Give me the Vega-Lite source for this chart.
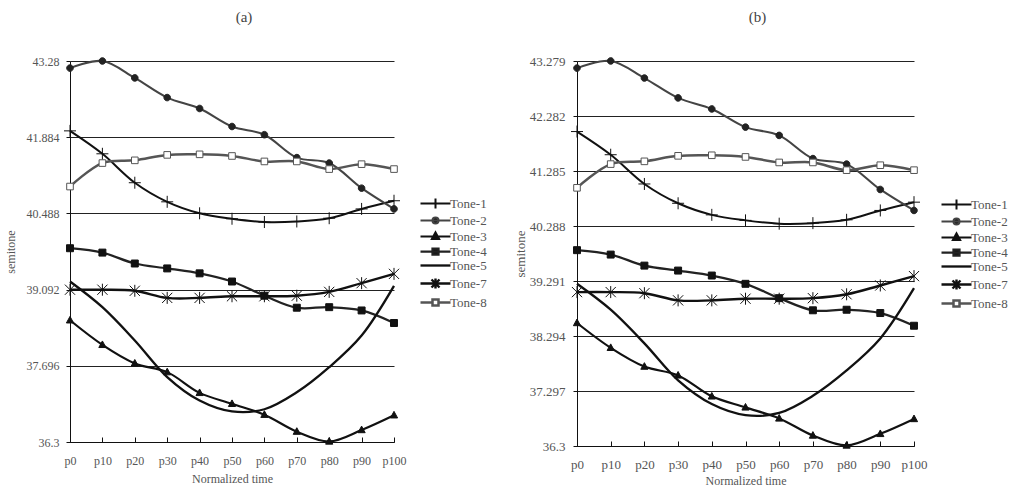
{
  "$schema": "https://vega.github.io/schema/vega-lite/v6.json",
  "padding": {"left": 4, "top": 10, "right": 2, "bottom": 0},
  "bounds": "flush",
  "spacing": 183,
  "background": "white",
  "resolve": {
    "scale": {"color": "independent", "strokeWidth": "independent", "x": "independent", "y": "independent"},
    "legend": {"color": "independent"}
  },
  "config": {
    "font": "Liberation Serif, Times New Roman, serif",
    "view": {"stroke": null},
    "title": {"font": "Liberation Serif, Times New Roman, serif", "fontSize": 15, "fontWeight": "normal", "color": "#444", "anchor": "middle", "dx": 12, "offset": 30},
    "axis": {
      "labelFont": "Liberation Serif, Times New Roman, serif",
      "labelFontSize": 12,
      "labelColor": "#555",
      "titleFont": "Liberation Serif, Times New Roman, serif",
      "titleFontSize": 12,
      "titleFontWeight": "normal",
      "titleColor": "#555",
      "domainColor": "#111",
      "domainWidth": 1,
      "tickColor": "#111",
      "gridColor": "#222",
      "gridWidth": 1,
      "gridOpacity": 1
    },
    "axisX": {"labelAngle": 0, "grid": false, "tickSize": -5, "labelPadding": 18, "titlePadding": 7},
    "axisY": {"grid": true, "tickSize": 4, "format": ".3~f"},
    "legend": {
      "labelFont": "Liberation Serif, Times New Roman, serif",
      "labelFontSize": 13,
      "labelColor": "#555",
      "padding": 0,
      "title": null,
      "orient": "none",
      "symbolSize": 100,
      "labelOffset": 8,
      "rowPadding": 0
    },
    "point": {"size": 144, "strokeWidth": 1, "opacity": 1, "filled": true, "fill": "#111", "stroke": "#111"}
  },
  "datasets": {
    "tones": [
      {"tone": "Tone-1", "time": "p0", "semitone": 42.00},
      {"tone": "Tone-1", "time": "p10", "semitone": 41.58},
      {"tone": "Tone-1", "time": "p20", "semitone": 41.05},
      {"tone": "Tone-1", "time": "p30", "semitone": 40.70},
      {"tone": "Tone-1", "time": "p40", "semitone": 40.49},
      {"tone": "Tone-1", "time": "p50", "semitone": 40.39},
      {"tone": "Tone-1", "time": "p60", "semitone": 40.33},
      {"tone": "Tone-1", "time": "p70", "semitone": 40.34},
      {"tone": "Tone-1", "time": "p80", "semitone": 40.40},
      {"tone": "Tone-1", "time": "p90", "semitone": 40.57},
      {"tone": "Tone-1", "time": "p100", "semitone": 40.72},
      {"tone": "Tone-2", "time": "p0", "semitone": 43.15},
      {"tone": "Tone-2", "time": "p10", "semitone": 43.28},
      {"tone": "Tone-2", "time": "p20", "semitone": 42.97},
      {"tone": "Tone-2", "time": "p30", "semitone": 42.61},
      {"tone": "Tone-2", "time": "p40", "semitone": 42.41},
      {"tone": "Tone-2", "time": "p50", "semitone": 42.08},
      {"tone": "Tone-2", "time": "p60", "semitone": 41.93},
      {"tone": "Tone-2", "time": "p70", "semitone": 41.51},
      {"tone": "Tone-2", "time": "p80", "semitone": 41.41},
      {"tone": "Tone-2", "time": "p90", "semitone": 40.95},
      {"tone": "Tone-2", "time": "p100", "semitone": 40.57},
      {"tone": "Tone-3", "time": "p0", "semitone": 38.53},
      {"tone": "Tone-3", "time": "p10", "semitone": 38.08},
      {"tone": "Tone-3", "time": "p20", "semitone": 37.74},
      {"tone": "Tone-3", "time": "p30", "semitone": 37.58},
      {"tone": "Tone-3", "time": "p40", "semitone": 37.20},
      {"tone": "Tone-3", "time": "p50", "semitone": 37.00},
      {"tone": "Tone-3", "time": "p60", "semitone": 36.80},
      {"tone": "Tone-3", "time": "p70", "semitone": 36.49},
      {"tone": "Tone-3", "time": "p80", "semitone": 36.31},
      {"tone": "Tone-3", "time": "p90", "semitone": 36.52},
      {"tone": "Tone-3", "time": "p100", "semitone": 36.79},
      {"tone": "Tone-4", "time": "p0", "semitone": 39.85},
      {"tone": "Tone-4", "time": "p10", "semitone": 39.77},
      {"tone": "Tone-4", "time": "p20", "semitone": 39.57},
      {"tone": "Tone-4", "time": "p30", "semitone": 39.48},
      {"tone": "Tone-4", "time": "p40", "semitone": 39.39},
      {"tone": "Tone-4", "time": "p50", "semitone": 39.24},
      {"tone": "Tone-4", "time": "p60", "semitone": 38.98},
      {"tone": "Tone-4", "time": "p70", "semitone": 38.76},
      {"tone": "Tone-4", "time": "p80", "semitone": 38.77},
      {"tone": "Tone-4", "time": "p90", "semitone": 38.71},
      {"tone": "Tone-4", "time": "p100", "semitone": 38.48},
      {"tone": "Tone-5", "time": "p0", "semitone": 39.24},
      {"tone": "Tone-5", "time": "p10", "semitone": 38.77},
      {"tone": "Tone-5", "time": "p20", "semitone": 38.16},
      {"tone": "Tone-5", "time": "p30", "semitone": 37.49},
      {"tone": "Tone-5", "time": "p40", "semitone": 37.06},
      {"tone": "Tone-5", "time": "p50", "semitone": 36.86},
      {"tone": "Tone-5", "time": "p60", "semitone": 36.90},
      {"tone": "Tone-5", "time": "p70", "semitone": 37.21},
      {"tone": "Tone-5", "time": "p80", "semitone": 37.67},
      {"tone": "Tone-5", "time": "p90", "semitone": 38.25},
      {"tone": "Tone-5", "time": "p100", "semitone": 39.16},
      {"tone": "Tone-7", "time": "p0", "semitone": 39.09},
      {"tone": "Tone-7", "time": "p10", "semitone": 39.09},
      {"tone": "Tone-7", "time": "p20", "semitone": 39.07},
      {"tone": "Tone-7", "time": "p30", "semitone": 38.94},
      {"tone": "Tone-7", "time": "p40", "semitone": 38.94},
      {"tone": "Tone-7", "time": "p50", "semitone": 38.97},
      {"tone": "Tone-7", "time": "p60", "semitone": 38.97},
      {"tone": "Tone-7", "time": "p70", "semitone": 38.98},
      {"tone": "Tone-7", "time": "p80", "semitone": 39.05},
      {"tone": "Tone-7", "time": "p90", "semitone": 39.21},
      {"tone": "Tone-7", "time": "p100", "semitone": 39.38},
      {"tone": "Tone-8", "time": "p0", "semitone": 40.98},
      {"tone": "Tone-8", "time": "p10", "semitone": 41.41},
      {"tone": "Tone-8", "time": "p20", "semitone": 41.46},
      {"tone": "Tone-8", "time": "p30", "semitone": 41.56},
      {"tone": "Tone-8", "time": "p40", "semitone": 41.57},
      {"tone": "Tone-8", "time": "p50", "semitone": 41.54},
      {"tone": "Tone-8", "time": "p60", "semitone": 41.44},
      {"tone": "Tone-8", "time": "p70", "semitone": 41.44},
      {"tone": "Tone-8", "time": "p80", "semitone": 41.30},
      {"tone": "Tone-8", "time": "p90", "semitone": 41.39},
      {"tone": "Tone-8", "time": "p100", "semitone": 41.30}
    ]
  },
  "hconcat": [
    {
      "width": 324,
      "height": 381,
      "title": {"text": "(a)"},
      "data": {"name": "tones"},
      "encoding": {
        "x": {
          "field": "time", "type": "ordinal",
          "scale": {"type": "point", "padding": 0, "domain": ["p0", "p10", "p20", "p30", "p40", "p50", "p60", "p70", "p80", "p90", "p100"]},
          "axis": {"title": "Normalized time"}
        },
        "y": {
          "field": "semitone", "type": "quantitative",
          "scale": {"domain": [36.3, 43.28], "nice": false, "zero": false},
          "axis": {"title": "semitone", "values": [36.3, 37.696, 39.092, 40.488, 41.884, 43.28], "labelPadding": 7, "titlePadding": 9}
        }
      },
      "layer": [
        {
          "mark": {"type": "line", "interpolate": "catmull-rom"},
          "encoding": {
            "color": {
              "field": "tone", "type": "nominal",
              "scale": {"domain": ["Tone-1", "Tone-2", "Tone-3", "Tone-4", "Tone-5", "Tone-7", "Tone-8"], "range": ["#111", "#444", "#111", "#222", "#111", "#111", "#555"]},
              "legend": {
                "legendX": 359, "legendY": 136,
                "symbolType": {"expr": "datum.value === 'Tone-1' ? 'M-3,0H3M0,-1V1' : datum.value === 'Tone-2' ? 'M-3,0H3M0.6,0A0.6,0.6 0 1,1 -0.6,0A0.6,0.6 0 1,1 0.6,0Z' : datum.value === 'Tone-3' ? 'M-3,0H3M0,-0.8L0.7,0.5L-0.7,0.5Z' : datum.value === 'Tone-4' ? 'M-3,0H3M-0.6,-0.6H0.6V0.6H-0.6Z' : datum.value === 'Tone-7' ? 'M-3,0H3M0,-1V1M-0.8,-0.8L0.8,0.8M-0.8,0.8L0.8,-0.8' : datum.value === 'Tone-8' ? 'M-3,0H-0.6M0.6,0H3M-0.6,-0.6H0.6V0.6H-0.6Z' : 'M-3,0H3'"},
                "symbolStrokeWidth": {"expr": "indexof(['Tone-1','Tone-2','Tone-5','Tone-7'], datum.value) >= 0 ? 2 : 1"},
                "symbolFillColor": {"expr": "datum.value === 'Tone-8' ? 'white' : '#111'"}
              }
            },
            "strokeWidth": {
              "field": "tone", "type": "nominal",
              "scale": {"domain": ["Tone-1", "Tone-2", "Tone-3", "Tone-4", "Tone-5", "Tone-7", "Tone-8"], "range": [2, 2.5, 1, 1, 2.5, 2.5, 1]},
              "legend": null
            }
          }
        },
        {"transform": [{"filter": "datum.tone === 'Tone-1'"}], "mark": {"type": "point", "shape": "M-1,0H1M0,-1V1"}},
        {"transform": [{"filter": "datum.tone === 'Tone-2'"}], "mark": {"type": "point", "shape": "M0.55,0A0.55,0.55 0 1,1 -0.55,0A0.55,0.55 0 1,1 0.55,0Z", "fill": "#222", "stroke": "#222"}},
        {"transform": [{"filter": "datum.tone === 'Tone-3'"}], "mark": {"type": "point", "shape": "M0,-0.65L0.6,0.45L-0.6,0.45Z"}},
        {"transform": [{"filter": "datum.tone === 'Tone-4'"}], "mark": {"type": "point", "shape": "M-0.58,-0.58H0.58V0.58H-0.58Z"}},
        {"transform": [{"filter": "datum.tone === 'Tone-7'"}], "mark": {"type": "point", "shape": "M0,-1V1M-0.85,-0.85L0.85,0.85M-0.85,0.85L0.85,-0.85"}},
        {"transform": [{"filter": "datum.tone === 'Tone-8'"}], "mark": {"type": "point", "shape": "M-0.55,-0.55H0.55V0.55H-0.55Z", "fill": "white", "stroke": "#555"}}
      ]
    },
    {
      "width": 337,
      "height": 385,
      "title": {"text": "(b)"},
      "data": {"name": "tones"},
      "encoding": {
        "x": {
          "field": "time", "type": "ordinal",
          "scale": {"type": "point", "padding": 0, "domain": ["p0", "p10", "p20", "p30", "p40", "p50", "p60", "p70", "p80", "p90", "p100"]},
          "axis": {"title": "Normalized time", "labelFontSize": 13, "labelPadding": 17, "titlePadding": 4}
        },
        "y": {
          "field": "semitone", "type": "quantitative",
          "scale": {"domain": [36.3, 43.279], "nice": false, "zero": false},
          "axis": {"title": "semitone", "values": [36.3, 37.297, 38.294, 39.291, 40.288, 41.285, 42.282, 43.279], "labelFontSize": 13, "titleFontSize": 13, "labelPadding": 8, "titlePadding": 2}
        }
      },
      "layer": [
        {
          "mark": {"type": "line", "interpolate": "catmull-rom"},
          "encoding": {
            "color": {
              "field": "tone", "type": "nominal",
              "scale": {"domain": ["Tone-1", "Tone-2", "Tone-3", "Tone-4", "Tone-5", "Tone-7", "Tone-8"], "range": ["#111", "#444", "#111", "#222", "#111", "#111", "#555"]},
              "legend": {
                "legendX": 373, "legendY": 137,
                "symbolType": {"expr": "datum.value === 'Tone-1' ? 'M-3,0H3M0,-1V1' : datum.value === 'Tone-2' ? 'M-3,0H3M0.6,0A0.6,0.6 0 1,1 -0.6,0A0.6,0.6 0 1,1 0.6,0Z' : datum.value === 'Tone-3' ? 'M-3,0H3M0,-0.8L0.7,0.5L-0.7,0.5Z' : datum.value === 'Tone-4' ? 'M-3,0H3M-0.6,-0.6H0.6V0.6H-0.6Z' : datum.value === 'Tone-7' ? 'M-3,0H3M0,-1V1M-0.8,-0.8L0.8,0.8M-0.8,0.8L0.8,-0.8' : datum.value === 'Tone-8' ? 'M-3,0H-0.6M0.6,0H3M-0.6,-0.6H0.6V0.6H-0.6Z' : 'M-3,0H3'"},
                "symbolStrokeWidth": {"expr": "indexof(['Tone-1','Tone-2','Tone-5','Tone-7'], datum.value) >= 0 ? 2 : 1"},
                "symbolFillColor": {"expr": "datum.value === 'Tone-8' ? 'white' : '#111'"}
              }
            },
            "strokeWidth": {
              "field": "tone", "type": "nominal",
              "scale": {"domain": ["Tone-1", "Tone-2", "Tone-3", "Tone-4", "Tone-5", "Tone-7", "Tone-8"], "range": [2, 2.5, 1, 1, 2.5, 2.5, 1]},
              "legend": null
            }
          }
        },
        {"transform": [{"filter": "datum.tone === 'Tone-1'"}], "mark": {"type": "point", "shape": "M-1,0H1M0,-1V1"}},
        {"transform": [{"filter": "datum.tone === 'Tone-2'"}], "mark": {"type": "point", "shape": "M0.55,0A0.55,0.55 0 1,1 -0.55,0A0.55,0.55 0 1,1 0.55,0Z", "fill": "#222", "stroke": "#222"}},
        {"transform": [{"filter": "datum.tone === 'Tone-3'"}], "mark": {"type": "point", "shape": "M0,-0.65L0.6,0.45L-0.6,0.45Z"}},
        {"transform": [{"filter": "datum.tone === 'Tone-4'"}], "mark": {"type": "point", "shape": "M-0.58,-0.58H0.58V0.58H-0.58Z"}},
        {"transform": [{"filter": "datum.tone === 'Tone-7'"}], "mark": {"type": "point", "shape": "M0,-1V1M-0.85,-0.85L0.85,0.85M-0.85,0.85L0.85,-0.85"}},
        {"transform": [{"filter": "datum.tone === 'Tone-8'"}], "mark": {"type": "point", "shape": "M-0.55,-0.55H0.55V0.55H-0.55Z", "fill": "white", "stroke": "#555"}}
      ]
    }
  ]
}
